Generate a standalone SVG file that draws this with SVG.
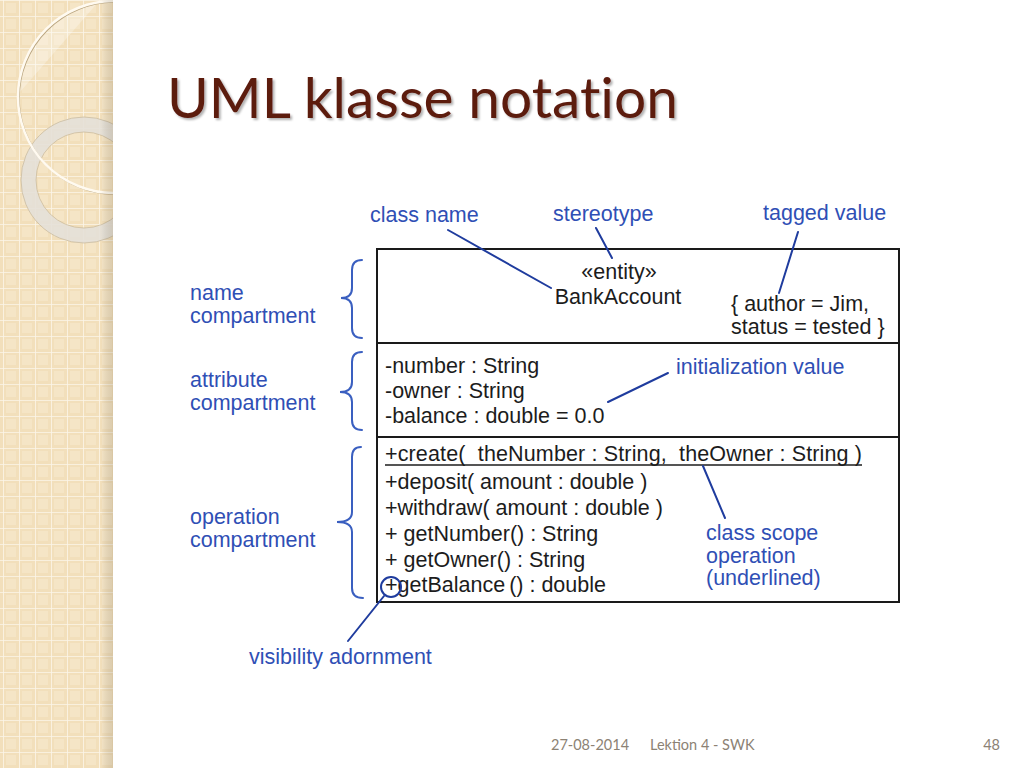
<svg xmlns="http://www.w3.org/2000/svg" width="1024" height="768" viewBox="0 0 1024 768">
<defs>
<style>
.lbl{font-family:"Liberation Sans",Arial,sans-serif;font-size:21.5px;fill:#2f4fb5}
.txt{font-family:"Liberation Sans",Arial,sans-serif;font-size:21.5px;fill:#1c1c1c}
.foot{font-family:Lato,"Open Sans",sans-serif;font-size:14.5px;fill:#8c8274}
.lead{stroke:#1f3c9e;stroke-width:2;fill:none;stroke-linecap:round}
.brace{stroke:#3a5fc0;stroke-width:2;fill:none;stroke-linecap:round}
.box{fill:#fff;stroke:#1a1a1a;stroke-width:2}
.div{stroke:#1a1a1a;stroke-width:2}
</style>
<pattern id="grid" x="3" y="0" width="16" height="16" patternUnits="userSpaceOnUse">
<rect width="16" height="16" fill="#f2dfbb"/>
<rect x="3" y="3" width="10" height="10" fill="#f5e5c6"/>
<path d="M0 0V16M0 0H16" stroke="#fcf6ea" stroke-width="1.6"/>
</pattern>
<clipPath id="strip"><rect x="0" y="0" width="113" height="768"/></clipPath>
<clipPath id="bigc"><circle cx="114" cy="97" r="96"/></clipPath>
<filter id="sh" x="-5%" y="-20%" width="110%" height="150%">
<feDropShadow dx="2" dy="2" stdDeviation="1.2" flood-color="#000" flood-opacity="0.3"/>
</filter>
<linearGradient id="edge" x1="0" x2="1" y1="0" y2="0">
<stop offset="0" stop-color="#000" stop-opacity="0"/>
<stop offset="1" stop-color="#6b5a3a" stop-opacity="0.18"/>
</linearGradient>
</defs>
<rect width="1024" height="768" fill="#ffffff"/>

<g id="side-strip">
<rect x="0" y="0" width="113" height="768" fill="url(#grid)"/>
<g clip-path="url(#strip)">
<path d="M0 0 L100 0 L20 92 L0 92 Z" fill="#ffffff" fill-opacity="0.28" clip-path="url(#bigc)"/>
<circle cx="84" cy="180" r="55.5" fill="none" stroke="#e4e0d8" stroke-opacity="0.9" stroke-width="15"/>
<circle cx="84" cy="180" r="63" fill="none" stroke="#cbbd9f" stroke-width="0.8"/>
<circle cx="84" cy="180" r="48" fill="none" stroke="#cbbd9f" stroke-width="0.8"/>
<circle cx="115" cy="98" r="96" fill="none" stroke="#b9a47e" stroke-width="1.5"/>
<circle cx="114" cy="97" r="96" fill="none" stroke="#fffaf0" stroke-width="2.5"/>
</g>
<rect x="101" y="0" width="12" height="768" fill="url(#edge)"/>
</g>

<text id="title" x="167" y="118" font-family="Lato,'Open Sans',sans-serif" font-size="56" fill="#5b1a10" style="font-variant-ligatures:none" textLength="511" lengthAdjust="spacingAndGlyphs" filter="url(#sh)">UML klasse notation</text>

<g id="class-bankaccount">
<rect class="box" x="377" y="249" width="522" height="353"/>
<line class="div" x1="377" y1="343" x2="899" y2="343"/>
<line class="div" x1="377" y1="437" x2="899" y2="437"/>
<g id="name-compartment">
<text class="txt" x="619" y="279" text-anchor="middle">«entity»</text>
<text class="txt" x="618" y="304" text-anchor="middle">BankAccount</text>
<text class="txt" x="731" y="311">{ author = Jim,</text>
<text class="txt" x="731" y="334">status = tested }</text>
</g>
<g id="attribute-compartment">
<text class="txt" x="385" y="373">-number : String</text>
<text class="txt" x="385" y="398">-owner : String</text>
<text class="txt" x="385" y="423">-balance : double = 0.0</text>
</g>
<g id="operation-compartment">
<text class="txt" x="385" y="461" textLength="477" lengthAdjust="spacing" xml:space="preserve">+create(  theNumber : String,  theOwner : String )</text>
<line x1="385" y1="465" x2="862" y2="465" stroke="#1c1c1c" stroke-width="1.4"/>
<text class="txt" x="385" y="489">+deposit( amount : double )</text>
<text class="txt" x="385" y="515">+withdraw( amount : double )</text>
<text class="txt" x="385" y="541">+ getNumber() : String</text>
<text class="txt" x="385" y="567">+ getOwner() : String</text>
<text class="txt" x="385" y="592">+getBalance<tspan dx="4">() : double</tspan></text>
</g>
</g>

<g id="connectors">
<path class="lead" d="M448 230 L551 288"/>
<path class="lead" d="M596 228 L612 258"/>
<path class="lead" d="M798 232 L779 293"/>
<path class="lead" d="M668 373 L608 402"/>
<path class="lead" d="M703 466 L725 518"/>
<path class="lead" d="M348 641 L384 596"/>
<circle class="lead" cx="391" cy="587" r="10"/>
<path class="brace" d="M362 260 Q352 260 352 270 L352 288 Q352 298 341 298 Q352 298 352 308 L352 328 Q352 338 362 338"/>
<path class="brace" d="M362 352 Q352 352 352 362 L352 382 Q352 392 340 392 Q352 392 352 402 L352 420 Q352 430 362 430"/>
<path class="brace" d="M361 447 Q352 447 352 457 L352 512 Q352 522 337 522 Q352 522 352 532 L352 588 Q352 598 363 598"/>
</g>

<g id="label-class-name"><text class="lbl" x="370" y="222">class name</text></g>
<g id="label-stereotype"><text class="lbl" x="553" y="221">stereotype</text></g>
<g id="label-tagged-value"><text class="lbl" x="763" y="220">tagged value</text></g>
<g id="label-name-compartment"><text class="lbl" x="190" y="300">name</text><text class="lbl" x="190" y="323">compartment</text></g>
<g id="label-attribute-compartment"><text class="lbl" x="190" y="387">attribute</text><text class="lbl" x="190" y="410">compartment</text></g>
<g id="label-operation-compartment"><text class="lbl" x="190" y="524">operation</text><text class="lbl" x="190" y="547">compartment</text></g>
<g id="label-initialization-value"><text class="lbl" x="676" y="374">initialization value</text></g>
<g id="label-class-scope"><text class="lbl" x="706" y="540">class scope</text><text class="lbl" x="706" y="563">operation</text><text class="lbl" x="706" y="585">(underlined)</text></g>
<g id="label-visibility"><text class="lbl" x="249" y="664">visibility adornment</text></g>

<g id="footer">
<text class="foot" x="551" y="750">27-08-2014</text>
<text class="foot" x="650" y="750">Lektion 4 - SWK</text>
<text class="foot" x="1000" y="750" text-anchor="end">48</text>
</g>
</svg>
